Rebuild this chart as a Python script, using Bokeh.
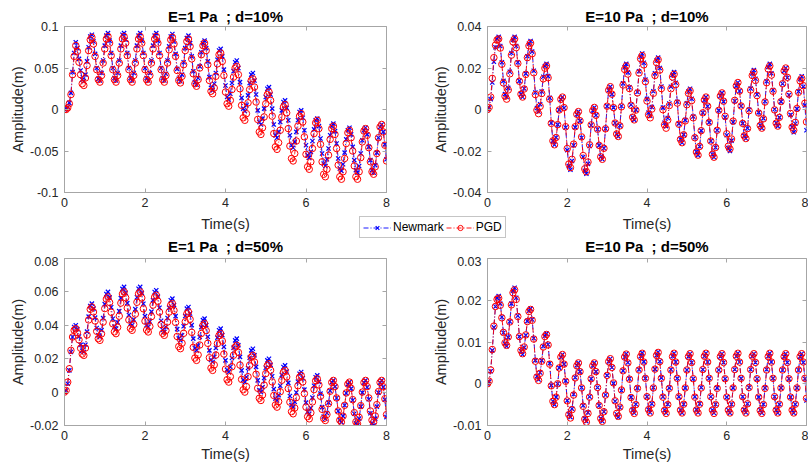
from bokeh.plotting import figure
from bokeh.models import (Range1d, FixedTicker, LinearAxis, Legend, LegendItem,
                          Label, ColumnDataSource)
from bokeh.layouts import column, row
from bokeh.embed import file_html
from bokeh.resources import INLINE

# ---------------- data ----------------
time_step = 0.04
n_samples = 201
time_s = [round(i * time_step, 2) for i in range(n_samples)]

x_ticks = [0, 2, 4, 6, 8]

NBSP = "\u00a0"
titles = ["E=1 Pa" + NBSP + " ; d=10%", "E=10 Pa" + NBSP + " ; d=10%",
          "E=1 Pa" + NBSP + " ; d=50%", "E=10 Pa" + NBSP + " ; d=50%"]
series_names = ["Newmark", "PGD"]

y_ticks_1 = [-0.1, -0.05, 0, 0.05, 0.1]
y_labels_1 = ["-0.1", "-0.05", "0", "0.05", "0.1"]
y_ticks_2 = [-0.04, -0.02, 0, 0.02, 0.04]
y_labels_2 = ["-0.04", "-0.02", "0", "0.02", "0.04"]
y_ticks_3 = [-0.02, 0, 0.02, 0.04, 0.06, 0.08]
y_labels_3 = ["-0.02", "0", "0.02", "0.04", "0.06", "0.08"]
y_ticks_4 = [-0.01, 0, 0.01, 0.02, 0.03]
y_labels_4 = ["-0.01", "0", "0.01", "0.02", "0.03"]

# E=1 Pa ; d=10%
newmark_1 = [
    0.000, 0.001, 0.003, 0.008, 0.020, 0.045, 0.068,
    0.081, 0.074, 0.061, 0.047, 0.036, 0.034, 0.042, 0.058, 0.075, 0.088,
    0.090, 0.082, 0.067, 0.050, 0.037, 0.035, 0.044, 0.059, 0.077, 0.089,
    0.092, 0.083, 0.068, 0.050, 0.038, 0.035, 0.044, 0.059, 0.077, 0.090,
    0.092, 0.084, 0.068, 0.050, 0.038, 0.035, 0.044, 0.059, 0.077, 0.089,
    0.092, 0.083, 0.068, 0.050, 0.038, 0.035, 0.044, 0.059, 0.077, 0.089,
    0.092, 0.083, 0.068, 0.050, 0.038, 0.035, 0.043, 0.059, 0.076, 0.088,
    0.091, 0.082, 0.067, 0.049, 0.037, 0.034, 0.042, 0.057, 0.074, 0.086,
    0.089, 0.080, 0.064, 0.046, 0.033, 0.030, 0.038, 0.052, 0.069, 0.080,
    0.083, 0.074, 0.058, 0.039, 0.026, 0.023, 0.031, 0.044, 0.060, 0.071,
    0.073, 0.064, 0.048, 0.029, 0.015, 0.012, 0.019, 0.032, 0.046, 0.057,
    0.059, 0.050, 0.033, 0.014, 0.001, -0.002, 0.005, 0.017, 0.032, 0.042,
    0.044, 0.035, 0.018, -0.001, -0.015, -0.018, -0.011, 0.001, 0.015, 0.025,
    0.027, 0.018, 0.001, -0.018, -0.031, -0.034, -0.027, -0.015, -0.001, 0.009,
    0.011, 0.002, -0.013, -0.031, -0.043, -0.046, -0.039, -0.027, -0.013, -0.003,
    -0.001, -0.010, -0.025, -0.043, -0.055, -0.058, -0.051, -0.038, -0.024, -0.013,
    -0.011, -0.020, -0.035, -0.053, -0.065, -0.068, -0.060, -0.047, -0.031, -0.020,
    -0.017, -0.026, -0.041, -0.059, -0.071, -0.074, -0.066, -0.052, -0.036, -0.025,
    -0.022, -0.030, -0.045, -0.061, -0.073, -0.076, -0.068, -0.053, -0.037, -0.025,
    -0.022, -0.030, -0.045, -0.061, -0.073, -0.076, -0.067, -0.052, -0.034, -0.021,
    -0.018, -0.027, -0.042, -0.060,
]
pgd_1 = [
    0.000, 0.000, 0.002, 0.007, 0.018, 0.042, 0.064,
    0.077, 0.070, 0.057, 0.042, 0.031, 0.029, 0.038, 0.053, 0.071, 0.084,
    0.087, 0.079, 0.064, 0.048, 0.036, 0.033, 0.041, 0.056, 0.073, 0.085,
    0.088, 0.080, 0.065, 0.048, 0.036, 0.033, 0.041, 0.056, 0.073, 0.085,
    0.088, 0.080, 0.065, 0.048, 0.036, 0.033, 0.041, 0.056, 0.073, 0.085,
    0.088, 0.080, 0.065, 0.048, 0.036, 0.033, 0.041, 0.056, 0.073, 0.085,
    0.088, 0.080, 0.065, 0.048, 0.036, 0.033, 0.041, 0.056, 0.072, 0.084,
    0.087, 0.079, 0.064, 0.047, 0.035, 0.032, 0.040, 0.054, 0.071, 0.082,
    0.085, 0.076, 0.061, 0.043, 0.031, 0.028, 0.036, 0.050, 0.066, 0.077,
    0.080, 0.071, 0.054, 0.035, 0.022, 0.019, 0.026, 0.040, 0.055, 0.066,
    0.068, 0.058, 0.041, 0.021, 0.007, 0.004, 0.011, 0.024, 0.039, 0.050,
    0.052, 0.042, 0.025, 0.005, -0.010, -0.013, -0.005, 0.008, 0.024, 0.035,
    0.037, 0.027, 0.009, -0.012, -0.027, -0.030, -0.022, -0.009, 0.007, 0.018,
    0.021, 0.011, -0.008, -0.029, -0.045, -0.048, -0.040, -0.025, -0.009, 0.003,
    0.006, -0.004, -0.023, -0.044, -0.059, -0.062, -0.053, -0.038, -0.020, -0.008,
    -0.005, -0.015, -0.033, -0.054, -0.069, -0.072, -0.063, -0.047, -0.029, -0.016,
    -0.013, -0.023, -0.042, -0.063, -0.078, -0.081, -0.072, -0.055, -0.036, -0.023,
    -0.020, -0.030, -0.047, -0.067, -0.081, -0.084, -0.075, -0.059, -0.041, -0.028,
    -0.025, -0.034, -0.050, -0.068, -0.081, -0.084, -0.075, -0.058, -0.039, -0.026,
    -0.023, -0.031, -0.046, -0.063, -0.075, -0.078, -0.069, -0.053, -0.034, -0.021,
    -0.018, -0.027, -0.043, -0.062,
]

# E=10 Pa ; d=10%
newmark_2 = [
    0.0000, 0.0010, 0.0050, 0.0130, 0.0230, 0.0300, 0.0340,
    0.0350, 0.0306, 0.0228, 0.0138, 0.0074, 0.0060, 0.0104, 0.0182, 0.0272, 0.0336,
    0.0350, 0.0306, 0.0228, 0.0138, 0.0074, 0.0060, 0.0101, 0.0173, 0.0257, 0.0317,
    0.0330, 0.0279, 0.0187, 0.0082, 0.0007, -0.0010, 0.0025, 0.0087, 0.0158, 0.0209,
    0.0220, 0.0161, 0.0056, -0.0065, -0.0151, -0.0170, -0.0135, -0.0073, -0.0002, 0.0049,
    0.0060, 0.0007, -0.0087, -0.0196, -0.0273, -0.0290, -0.0248, -0.0172, -0.0086, -0.0024,
    -0.0010, -0.0055, -0.0136, -0.0229, -0.0295, -0.0310, -0.0262, -0.0176, -0.0076, -0.0006,
    0.0010, -0.0028, -0.0095, -0.0173, -0.0228, -0.0240, -0.0187, -0.0093, 0.0016, 0.0093,
    0.0110, 0.0074, 0.0009, -0.0065, -0.0118, -0.0130, -0.0077, 0.0017, 0.0126, 0.0203,
    0.0220, 0.0179, 0.0107, 0.0023, -0.0037, -0.0050, -0.0002, 0.0084, 0.0184, 0.0254,
    0.0270, 0.0225, 0.0144, 0.0051, -0.0015, -0.0030, 0.0012, 0.0088, 0.0174, 0.0236,
    0.0250, 0.0200, 0.0111, 0.0009, -0.0064, -0.0080, -0.0041, 0.0029, 0.0110, 0.0167,
    0.0180, 0.0129, 0.0037, -0.0068, -0.0143, -0.0160, -0.0121, -0.0051, 0.0030, 0.0087,
    0.0100, 0.0052, -0.0034, -0.0134, -0.0204, -0.0220, -0.0178, -0.0102, -0.0016, 0.0046,
    0.0060, 0.0016, -0.0062, -0.0152, -0.0216, -0.0230, -0.0183, -0.0100, -0.0004, 0.0065,
    0.0080, 0.0038, -0.0038, -0.0124, -0.0186, -0.0200, -0.0150, -0.0061, 0.0041, 0.0114,
    0.0130, 0.0089, 0.0017, -0.0067, -0.0127, -0.0140, -0.0090, -0.0001, 0.0101, 0.0174,
    0.0190, 0.0148, 0.0072, -0.0014, -0.0076, -0.0090, -0.0043, 0.0040, 0.0136, 0.0205,
    0.0220, 0.0175, 0.0094, 0.0001, -0.0065, -0.0080, -0.0038, 0.0038, 0.0124, 0.0186,
    0.0200, 0.0153, 0.0070, -0.0026, -0.0085, -0.0110, -0.0069, 0.0003, 0.0087, 0.0147,
    0.0160, 0.0110, 0.0020, -0.0100,
]
pgd_2 = [
    0.0000, 0.0010, 0.0060, 0.0150, 0.0250, 0.0310, 0.0335,
    0.0340, 0.0296, 0.0218, 0.0128, 0.0064, 0.0050, 0.0094, 0.0172, 0.0262, 0.0326,
    0.0340, 0.0298, 0.0222, 0.0136, 0.0074, 0.0060, 0.0099, 0.0169, 0.0250, 0.0307,
    0.0320, 0.0269, 0.0177, 0.0072, -0.0003, -0.0020, 0.0015, 0.0077, 0.0148, 0.0199,
    0.0210, 0.0153, 0.0050, -0.0067, -0.0151, -0.0170, -0.0135, -0.0073, -0.0002, 0.0049,
    0.0060, 0.0009, -0.0083, -0.0188, -0.0263, -0.0280, -0.0240, -0.0167, -0.0083, -0.0023,
    -0.0010, -0.0054, -0.0132, -0.0222, -0.0286, -0.0300, -0.0253, -0.0170, -0.0074, -0.0005,
    0.0010, -0.0028, -0.0095, -0.0173, -0.0228, -0.0240, -0.0187, -0.0093, 0.0016, 0.0093,
    0.0110, 0.0074, 0.0009, -0.0065, -0.0118, -0.0130, -0.0079, 0.0013, 0.0118, 0.0193,
    0.0210, 0.0171, 0.0101, 0.0020, -0.0037, -0.0050, -0.0003, 0.0080, 0.0176, 0.0245,
    0.0260, 0.0215, 0.0134, 0.0041, -0.0025, -0.0040, 0.0002, 0.0078, 0.0164, 0.0226,
    0.0240, 0.0190, 0.0101, -0.0001, -0.0074, -0.0090, -0.0051, 0.0019, 0.0100, 0.0157,
    0.0170, 0.0120, 0.0031, -0.0071, -0.0144, -0.0160, -0.0122, -0.0055, 0.0023, 0.0078,
    0.0090, 0.0043, -0.0040, -0.0136, -0.0205, -0.0220, -0.0178, -0.0102, -0.0016, 0.0046,
    0.0060, 0.0016, -0.0062, -0.0152, -0.0216, -0.0230, -0.0183, -0.0100, -0.0004, 0.0065,
    0.0080, 0.0040, -0.0033, -0.0117, -0.0177, -0.0190, -0.0142, -0.0056, 0.0044, 0.0114,
    0.0130, 0.0089, 0.0017, -0.0067, -0.0127, -0.0140, -0.0092, -0.0006, 0.0094, 0.0164,
    0.0180, 0.0140, 0.0067, -0.0017, -0.0077, -0.0090, -0.0045, 0.0036, 0.0129, 0.0195,
    0.0210, 0.0166, 0.0088, -0.0002, -0.0066, -0.0080, -0.0038, 0.0038, 0.0124, 0.0186,
    0.0200, 0.0155, 0.0074, -0.0019, -0.0085, -0.0100, -0.0062, 0.0005, 0.0083, 0.0138,
    0.0150, 0.0115, 0.0030, -0.0060,
]

# E=1 Pa ; d=50%
newmark_3 = [
    0.0000, 0.0010, 0.0050, 0.0130, 0.0240, 0.0330, 0.0390,
    0.0400, 0.0376, 0.0333, 0.0283, 0.0248, 0.0240, 0.0284, 0.0362, 0.0452, 0.0516,
    0.0530, 0.0500, 0.0446, 0.0384, 0.0340, 0.0330, 0.0371, 0.0443, 0.0527, 0.0587,
    0.0600, 0.0567, 0.0508, 0.0439, 0.0391, 0.0380, 0.0418, 0.0485, 0.0563, 0.0618,
    0.0630, 0.0595, 0.0533, 0.0462, 0.0411, 0.0400, 0.0435, 0.0497, 0.0568, 0.0619,
    0.0630, 0.0594, 0.0529, 0.0455, 0.0402, 0.0390, 0.0423, 0.0482, 0.0551, 0.0599,
    0.0610, 0.0572, 0.0505, 0.0427, 0.0372, 0.0360, 0.0390, 0.0444, 0.0506, 0.0550,
    0.0560, 0.0522, 0.0455, 0.0377, 0.0322, 0.0310, 0.0340, 0.0394, 0.0456, 0.0500,
    0.0510, 0.0471, 0.0401, 0.0320, 0.0263, 0.0250, 0.0279, 0.0330, 0.0389, 0.0431,
    0.0440, 0.0401, 0.0331, 0.0250, 0.0193, 0.0180, 0.0210, 0.0264, 0.0326, 0.0370,
    0.0380, 0.0341, 0.0271, 0.0190, 0.0133, 0.0120, 0.0150, 0.0204, 0.0266, 0.0310,
    0.0320, 0.0281, 0.0211, 0.0130, 0.0073, 0.0060, 0.0090, 0.0144, 0.0206, 0.0250,
    0.0260, 0.0221, 0.0151, 0.0070, 0.0013, 0.0000, 0.0030, 0.0084, 0.0146, 0.0190,
    0.0200, 0.0163, 0.0095, 0.0018, -0.0038, -0.0050, -0.0018, 0.0038, 0.0103, 0.0150,
    0.0160, 0.0123, 0.0055, -0.0023, -0.0078, -0.0090, -0.0058, -0.0002, 0.0063, 0.0110,
    0.0120, 0.0083, 0.0015, -0.0063, -0.0118, -0.0130, -0.0095, -0.0033, 0.0038, 0.0089,
    0.0100, 0.0061, -0.0009, -0.0090, -0.0147, -0.0160, -0.0125, -0.0063, 0.0008, 0.0059,
    0.0070, 0.0033, -0.0035, -0.0113, -0.0168, -0.0180, -0.0144, -0.0079, -0.0005, 0.0048,
    0.0060, 0.0021, -0.0049, -0.0130, -0.0187, -0.0200, -0.0159, -0.0087, -0.0003, 0.0057,
    0.0070, 0.0029, -0.0043, -0.0127, -0.0187, -0.0200, -0.0159, -0.0087, -0.0003, 0.0057,
    0.0070, 0.0030, -0.0045, -0.0150,
]
pgd_3 = [
    0.0000, 0.0010, 0.0060, 0.0140, 0.0250, 0.0330, 0.0370,
    0.0380, 0.0356, 0.0313, 0.0263, 0.0228, 0.0220, 0.0264, 0.0342, 0.0432, 0.0496,
    0.0510, 0.0480, 0.0426, 0.0364, 0.0320, 0.0310, 0.0349, 0.0419, 0.0500, 0.0557,
    0.0570, 0.0537, 0.0478, 0.0409, 0.0361, 0.0350, 0.0388, 0.0455, 0.0533, 0.0588,
    0.0600, 0.0565, 0.0503, 0.0432, 0.0381, 0.0370, 0.0405, 0.0467, 0.0538, 0.0589,
    0.0600, 0.0564, 0.0499, 0.0425, 0.0372, 0.0360, 0.0393, 0.0452, 0.0521, 0.0569,
    0.0580, 0.0544, 0.0479, 0.0405, 0.0352, 0.0340, 0.0369, 0.0420, 0.0479, 0.0521,
    0.0530, 0.0489, 0.0417, 0.0333, 0.0273, 0.0260, 0.0293, 0.0352, 0.0421, 0.0469,
    0.0480, 0.0436, 0.0358, 0.0268, 0.0204, 0.0190, 0.0223, 0.0282, 0.0351, 0.0399,
    0.0410, 0.0368, 0.0292, 0.0206, 0.0144, 0.0130, 0.0163, 0.0222, 0.0291, 0.0339,
    0.0350, 0.0306, 0.0228, 0.0138, 0.0074, 0.0060, 0.0093, 0.0152, 0.0221, 0.0269,
    0.0280, 0.0238, 0.0162, 0.0076, 0.0014, 0.0000, 0.0033, 0.0092, 0.0161, 0.0209,
    0.0220, 0.0180, 0.0107, 0.0023, -0.0037, -0.0050, -0.0017, 0.0042, 0.0111, 0.0159,
    0.0170, 0.0131, 0.0061, -0.0020, -0.0077, -0.0090, -0.0057, 0.0002, 0.0071, 0.0119,
    0.0130, 0.0091, 0.0021, -0.0060, -0.0117, -0.0130, -0.0095, -0.0033, 0.0038, 0.0089,
    0.0100, 0.0061, -0.0009, -0.0090, -0.0147, -0.0160, -0.0124, -0.0059, 0.0015, 0.0068,
    0.0080, 0.0043, -0.0025, -0.0103, -0.0158, -0.0170, -0.0134, -0.0069, 0.0005, 0.0058,
    0.0070, 0.0033, -0.0035, -0.0113, -0.0168, -0.0180, -0.0144, -0.0079, -0.0005, 0.0048,
    0.0060, 0.0023, -0.0045, -0.0123, -0.0178, -0.0190, -0.0151, -0.0081, 0.0000, 0.0057,
    0.0070, 0.0033, -0.0035, -0.0113, -0.0168, -0.0180, -0.0143, -0.0075, 0.0003, 0.0058,
    0.0070, 0.0032, -0.0040, -0.0135,
]

# E=10 Pa ; d=50%
newmark_4 = [
    0.0000, 0.0005, 0.0030, 0.0080, 0.0135, 0.0185, 0.0205,
    0.0210, 0.0192, 0.0160, 0.0122, 0.0096, 0.0090, 0.0111, 0.0149, 0.0192, 0.0223,
    0.0230, 0.0206, 0.0163, 0.0113, 0.0078, 0.0070, 0.0087, 0.0116, 0.0150, 0.0175,
    0.0180, 0.0154, 0.0109, 0.0056, 0.0018, 0.0010, 0.0027, 0.0056, 0.0090, 0.0115,
    0.0120, 0.0094, 0.0049, -0.0004, -0.0042, -0.0050, -0.0032, 0.0000, 0.0038, 0.0064,
    0.0070, 0.0047, 0.0007, -0.0040, -0.0073, -0.0080, -0.0060, -0.0025, 0.0015, 0.0044,
    0.0050, 0.0029, -0.0009, -0.0052, -0.0083, -0.0090, -0.0069, -0.0031, 0.0012, 0.0043,
    0.0050, 0.0029, -0.0009, -0.0052, -0.0083, -0.0090, -0.0067, -0.0027, 0.0020, 0.0053,
    0.0060, 0.0039, 0.0001, -0.0042, -0.0073, -0.0080, -0.0057, -0.0016, 0.0031, 0.0064,
    0.0072, 0.0051, 0.0012, -0.0032, -0.0063, -0.0070, -0.0049, -0.0010, 0.0034, 0.0066,
    0.0074, 0.0053, 0.0013, -0.0031, -0.0062, -0.0069, -0.0048, -0.0009, 0.0035, 0.0068,
    0.0076, 0.0054, 0.0014, -0.0031, -0.0063, -0.0070, -0.0049, -0.0010, 0.0034, 0.0066,
    0.0073, 0.0052, 0.0013, -0.0031, -0.0063, -0.0070, -0.0049, -0.0010, 0.0033, 0.0065,
    0.0072, 0.0051, 0.0012, -0.0031, -0.0062, -0.0069, -0.0048, -0.0009, 0.0034, 0.0066,
    0.0073, 0.0052, 0.0013, -0.0031, -0.0063, -0.0070, -0.0049, -0.0010, 0.0033, 0.0065,
    0.0072, 0.0051, 0.0012, -0.0032, -0.0063, -0.0070, -0.0049, -0.0010, 0.0034, 0.0066,
    0.0073, 0.0052, 0.0013, -0.0031, -0.0062, -0.0069, -0.0048, -0.0009, 0.0034, 0.0066,
    0.0072, 0.0051, 0.0012, -0.0032, -0.0063, -0.0070, -0.0049, -0.0010, 0.0034, 0.0066,
    0.0073, 0.0052, 0.0013, -0.0031, -0.0063, -0.0070, -0.0049, -0.0010, 0.0033, 0.0065,
    0.0072, 0.0051, 0.0012, -0.0032, -0.0063, -0.0070, -0.0049, -0.0010, 0.0033, 0.0065,
    0.0072, 0.0051, 0.0012, -0.0040,
]
pgd_4 = [
    0.0000, 0.0006, 0.0033, 0.0082, 0.0138, 0.0185, 0.0202,
    0.0205, 0.0188, 0.0158, 0.0123, 0.0098, 0.0092, 0.0112, 0.0148, 0.0189, 0.0218,
    0.0225, 0.0202, 0.0161, 0.0113, 0.0080, 0.0072, 0.0088, 0.0117, 0.0149, 0.0173,
    0.0178, 0.0152, 0.0107, 0.0054, 0.0016, 0.0008, 0.0025, 0.0054, 0.0088, 0.0113,
    0.0118, 0.0093, 0.0047, -0.0005, -0.0042, -0.0050, -0.0032, 0.0000, 0.0038, 0.0064,
    0.0070, 0.0047, 0.0006, -0.0041, -0.0074, -0.0082, -0.0062, -0.0027, 0.0014, 0.0043,
    0.0050, 0.0029, -0.0010, -0.0054, -0.0085, -0.0092, -0.0071, -0.0032, 0.0012, 0.0043,
    0.0050, 0.0029, -0.0009, -0.0052, -0.0083, -0.0090, -0.0067, -0.0027, 0.0020, 0.0053,
    0.0060, 0.0039, 0.0002, -0.0041, -0.0071, -0.0078, -0.0056, -0.0015, 0.0031, 0.0064,
    0.0071, 0.0050, 0.0011, -0.0033, -0.0064, -0.0071, -0.0050, -0.0011, 0.0033, 0.0065,
    0.0073, 0.0052, 0.0013, -0.0031, -0.0062, -0.0070, -0.0049, -0.0010, 0.0035, 0.0068,
    0.0075, 0.0053, 0.0013, -0.0032, -0.0064, -0.0071, -0.0050, -0.0011, 0.0033, 0.0065,
    0.0073, 0.0052, 0.0013, -0.0031, -0.0063, -0.0070, -0.0049, -0.0010, 0.0033, 0.0065,
    0.0072, 0.0051, 0.0012, -0.0032, -0.0063, -0.0070, -0.0049, -0.0010, 0.0034, 0.0066,
    0.0073, 0.0052, 0.0013, -0.0031, -0.0063, -0.0071, -0.0050, -0.0011, 0.0033, 0.0065,
    0.0072, 0.0051, 0.0012, -0.0032, -0.0063, -0.0070, -0.0049, -0.0010, 0.0034, 0.0066,
    0.0073, 0.0052, 0.0013, -0.0031, -0.0063, -0.0070, -0.0048, -0.0009, 0.0034, 0.0066,
    0.0072, 0.0051, 0.0012, -0.0032, -0.0064, -0.0071, -0.0050, -0.0011, 0.0033, 0.0065,
    0.0073, 0.0052, 0.0013, -0.0031, -0.0063, -0.0070, -0.0049, -0.0010, 0.0033, 0.0065,
    0.0072, 0.0051, 0.0012, -0.0032, -0.0063, -0.0070, -0.0049, -0.0010, 0.0033, 0.0065,
    0.0072, 0.0052, 0.0013, -0.0035,
]

# ---------------- styling ----------------
FONT = "Liberation Sans"
TXT = "#262626"
FRAME = "#a6a6a6"
BLUE = "#0000ff"
RED = "#ff0000"
DASH = "5 2 1 2"
LINE_W = 0.9
X_SIZE = 6
O_SIZE = 6.5


def add_series(p, source, x_range_name="default"):
    rs = []
    rs.append(p.line("t", "newmark", source=source, line_color=BLUE, line_width=LINE_W,
                     line_dash=DASH, x_range_name=x_range_name))
    rs.append(p.scatter("t", "newmark", source=source, marker="x", size=X_SIZE, line_color=BLUE,
                        line_width=1.2, x_range_name=x_range_name))
    rs.append(p.line("t", "pgd", source=source, line_color=RED, line_width=LINE_W,
                     line_dash=DASH, x_range_name=x_range_name))
    rs.append(p.scatter("t", "pgd", source=source, marker="circle", size=O_SIZE, line_color=RED,
                        fill_color=None, line_width=1, x_range_name=x_range_name))
    return rs


def make_panel(title, newmark, pgd, y_ticks, y_labels, frame_w, frame_h,
               b_left, b_right, b_top, b_bottom, show_title, show_xlabel):
    p = figure(frame_width=frame_w, frame_height=frame_h,
               min_border_left=b_left, min_border_right=b_right,
               min_border_top=b_top, min_border_bottom=b_bottom,
               x_range=Range1d(x_ticks[0], x_ticks[-1]),
               y_range=Range1d(y_ticks[0], y_ticks[-1]),
               output_backend="svg", toolbar_location=None,
               title=title if show_title else None)
    p.background_fill_color = "white"
    p.border_fill_color = "white"
    p.outline_line_color = FRAME
    p.outline_line_width = 1
    p.xgrid.visible = False
    p.ygrid.visible = False
    if show_title:
        p.title.text_font = FONT
        p.title.text_font_size = "15px"
        p.title.text_font_style = "bold"
        p.title.text_color = "black"
        p.title.align = "center"
        p.title.standoff = 4

    xa = p.xaxis[0]
    xa.ticker = FixedTicker(ticks=x_ticks)
    ya = p.yaxis[0]
    ya.ticker = FixedTicker(ticks=y_ticks)
    ya.major_label_overrides = {t: l for t, l in zip(y_ticks, y_labels)}
    if show_xlabel:
        xa.axis_label = "Time(s)"
    ya.axis_label = "Amplitude(m)"
    for ax in (xa, ya):
        ax.axis_line_color = FRAME
        ax.major_tick_line_color = FRAME
        ax.major_tick_in = 4
        ax.major_tick_out = 0
        ax.minor_tick_line_color = None
        ax.major_label_text_font = FONT
        ax.major_label_text_font_size = "12.5px"
        ax.major_label_text_color = TXT
        ax.axis_label_text_font = FONT
        ax.axis_label_text_font_size = "14.5px"
        ax.axis_label_text_font_style = "normal"
        ax.axis_label_text_color = TXT
    xa.major_label_standoff = 5
    xa.axis_label_standoff = 3
    ya.major_label_standoff = 6
    ya.axis_label_standoff = 1

    # MATLAB-style box ticks on the top and right edges (no labels)
    top = LinearAxis(ticker=FixedTicker(ticks=x_ticks))
    right = LinearAxis(ticker=FixedTicker(ticks=y_ticks))
    for ax in (top, right):
        ax.axis_line_color = None
        ax.major_tick_line_color = FRAME
        ax.major_tick_in = 4
        ax.major_tick_out = 0
        ax.minor_tick_line_color = None
        ax.major_label_text_font_size = "0px"
        ax.major_label_text_color = None
        ax.major_label_standoff = 0
    p.add_layout(top, "above")
    p.add_layout(right, "right")

    src = ColumnDataSource(dict(t=time_s, newmark=newmark, pgd=pgd))
    add_series(p, src)
    return p


p1 = make_panel(titles[0], newmark_1, pgd_1, y_ticks_1, y_labels_1, 322, 166, 64, 18, 26, 22, True, False)
p2 = make_panel(titles[1], newmark_2, pgd_2, y_ticks_2, y_labels_2, 319, 166, 83, 2, 26, 22, True, False)
p3 = make_panel(titles[2], newmark_3, pgd_3, y_ticks_3, y_labels_3, 322, 167, 64, 18, 2, 46, False, True)
p4 = make_panel(titles[3], newmark_4, pgd_4, y_ticks_4, y_labels_4, 319, 167, 83, 2, 2, 46, False, True)

# strip between the rows: x-labels of the top row, shared legend, titles of the bottom row
STRIP_W, STRIP_H = 808, 42
strip = figure(width=STRIP_W, height=STRIP_H, x_range=Range1d(0, STRIP_W), y_range=Range1d(0, STRIP_H),
               x_axis_type=None, y_axis_type=None, output_backend="svg",
               toolbar_location=None, min_border=0)
strip.grid.visible = False
strip.outline_line_color = None
strip.background_fill_color = "white"
strip.border_fill_color = "white"

left_center = 64 + 322 / 2
right_center = 487 + 319 / 2
for xc in (left_center, right_center):
    strip.add_layout(Label(x=xc, y=33, text="Time(s)", text_align="center", text_baseline="middle",
                           text_font=FONT, text_font_size="14.5px", text_color=TXT))
for xc, ttl in ((left_center, titles[2]), (right_center, titles[3])):
    strip.add_layout(Label(x=xc, y=10, text=ttl, text_align="center", text_baseline="middle",
                           text_font=FONT, text_font_size="15px", text_font_style="bold",
                           text_color="black"))

# legend proxies: the same series, mapped onto a range that keeps them out of view
strip.extra_x_ranges = {"hidden": Range1d(100, 200)}
proxy_src = ColumnDataSource(dict(t=time_s, newmark=newmark_1, pgd=pgd_1))
r_nl, r_nm, r_pl, r_pm = add_series(strip, proxy_src, x_range_name="hidden")
legend = Legend(items=[LegendItem(label=series_names[0], renderers=[r_nl, r_nm]),
                       LegendItem(label=series_names[1], renderers=[r_pl, r_pm])],
                orientation="horizontal", location=(359, 18),
                glyph_width=28, glyph_height=13, label_height=13, label_standoff=2,
                spacing=2, padding=3, margin=0,
                label_text_font=FONT, label_text_font_size="12px", label_text_color="black",
                border_line_color="#8c8c8c", border_line_width=1,
                background_fill_color="white", background_fill_alpha=1)
strip.add_layout(legend)

layout = column(row(p1, p2), strip, row(p3, p4))

open("out.html", "w").write(file_html(layout, INLINE))
